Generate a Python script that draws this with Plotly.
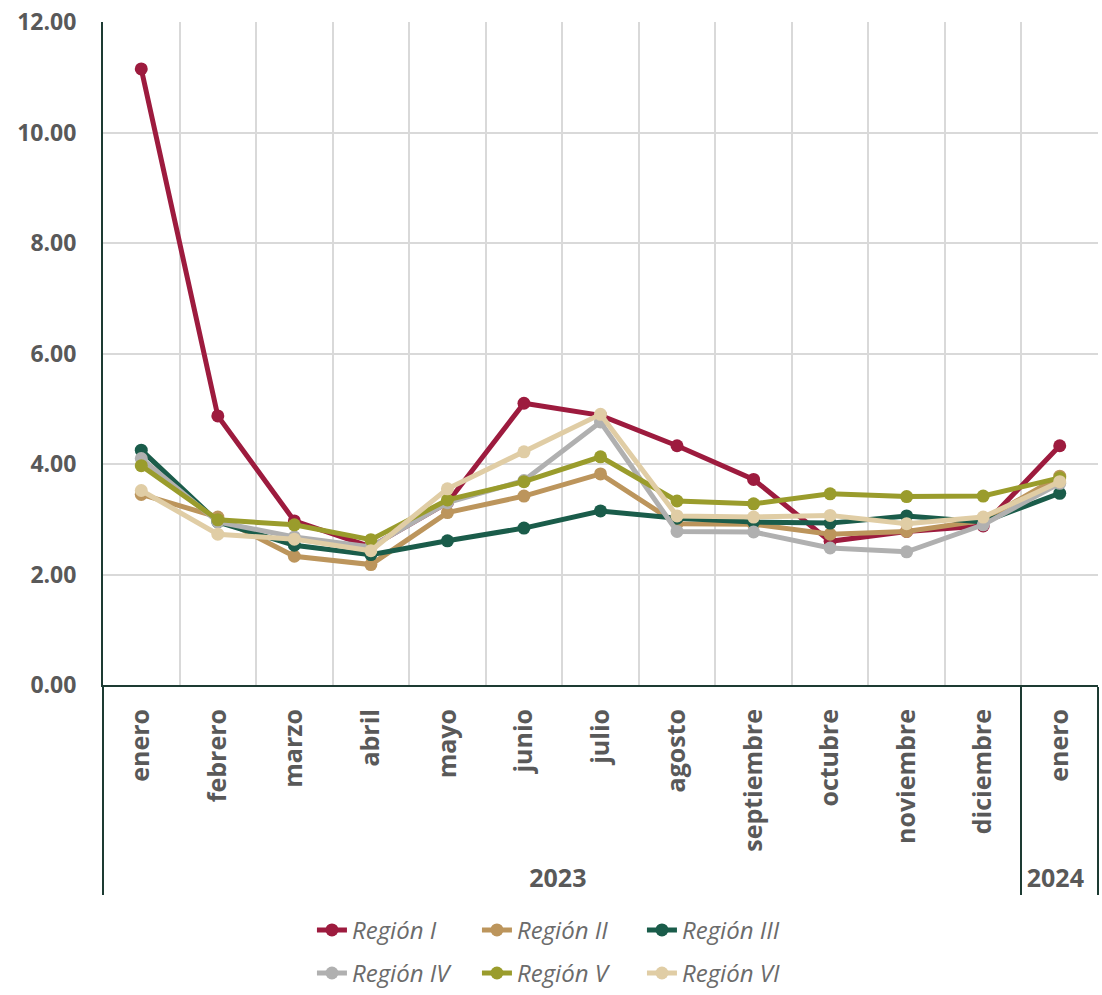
import plotly.graph_objects as go

years = ["2023"] * 12 + ["2024"]
months = ["enero", "febrero", "marzo", "abril", "mayo", "junio", "julio",
          "agosto", "septiembre", "octubre", "noviembre", "diciembre", "enero"]

region_i = [11.15, 4.87, 2.97, 2.50, 3.30, 5.10, 4.88, 4.33, 3.72, 2.60, 2.78, 2.88, 4.33]
region_ii = [3.45, 3.04, 2.33, 2.18, 3.12, 3.42, 3.82, 2.92, 2.91, 2.73, 2.78, 2.98, 3.78]
region_iii = [4.25, 2.95, 2.53, 2.36, 2.61, 2.84, 3.15, 3.02, 2.95, 2.93, 3.06, 2.95, 3.47]
region_iv = [4.10, 2.95, 2.68, 2.50, 3.30, 3.70, 4.76, 2.78, 2.77, 2.48, 2.41, 2.90, 3.65]
region_v = [3.97, 2.99, 2.90, 2.63, 3.35, 3.68, 4.13, 3.33, 3.28, 3.46, 3.41, 3.42, 3.75]
region_vi = [3.52, 2.73, 2.64, 2.43, 3.55, 4.22, 4.90, 3.06, 3.04, 3.07, 2.92, 3.04, 3.68]

names = ["Región I", "Región II", "Región III", "Región IV", "Región V", "Región VI"]
series = [region_i, region_ii, region_iii, region_iv, region_v, region_vi]
colors = ["#9d1b3e", "#bc955c", "#1a5c4a", "#b0b0b0", "#9a9c2c", "#e0cda5"]

fig = go.Figure()
for i, (n, s, c) in enumerate(zip(names, series, colors)):
    fig.add_trace(go.Scatter(
        x=[years, months], y=s, name=n, mode="lines+markers",
        line=dict(color=c, width=5), marker=dict(color=c, size=13),
        legend="legend" if i < 3 else "legend2",
    ))

legend_common = dict(
    orientation="h", xanchor="left", yanchor="middle",
    font=dict(family="Open Sans", size=24, color="#6b6b6b", style="italic"),
    entrywidth=120, entrywidthmode="pixels", bgcolor="rgba(0,0,0,0)",
    itemwidth=30, tracegroupgap=0,
)

fig.update_layout(
    width=1102, height=995,
    margin=dict(l=103, r=4, t=22, b=310, autoexpand=False),
    paper_bgcolor="white", plot_bgcolor="white",
    showlegend=True,
    legend=dict(x=0.21, y=-0.37, **legend_common),
    legend2=dict(x=0.21, y=-0.435, **legend_common),
    font=dict(family="Open Sans"),
)

fig.update_yaxes(
    range=[0, 12], dtick=2, tickformat=".2f",
    showgrid=True, gridcolor="#d9d9d9", gridwidth=2,
    showline=True, linecolor="#1d3b33", linewidth=2,
    zeroline=False, ticks="", ticklabelstandoff=20,
    tickfont=dict(family="Open Sans", size=23, color="#595959", weight="bold"),
)
fig.update_xaxes(
    type="multicategory", tickangle=-90, range=[-0.5, 12.5],
    showgrid=True, gridcolor="#d9d9d9", gridwidth=2,
    showline=True, linecolor="#1d3b33", linewidth=2,
    showdividers=True, dividercolor="#1d3b33", dividerwidth=2,
    ticks="", ticklabelstandoff=12,
    tickfont=dict(family="Open Sans", size=25, color="#595959", weight="bold"),
)

fig.write_html("out.html")
